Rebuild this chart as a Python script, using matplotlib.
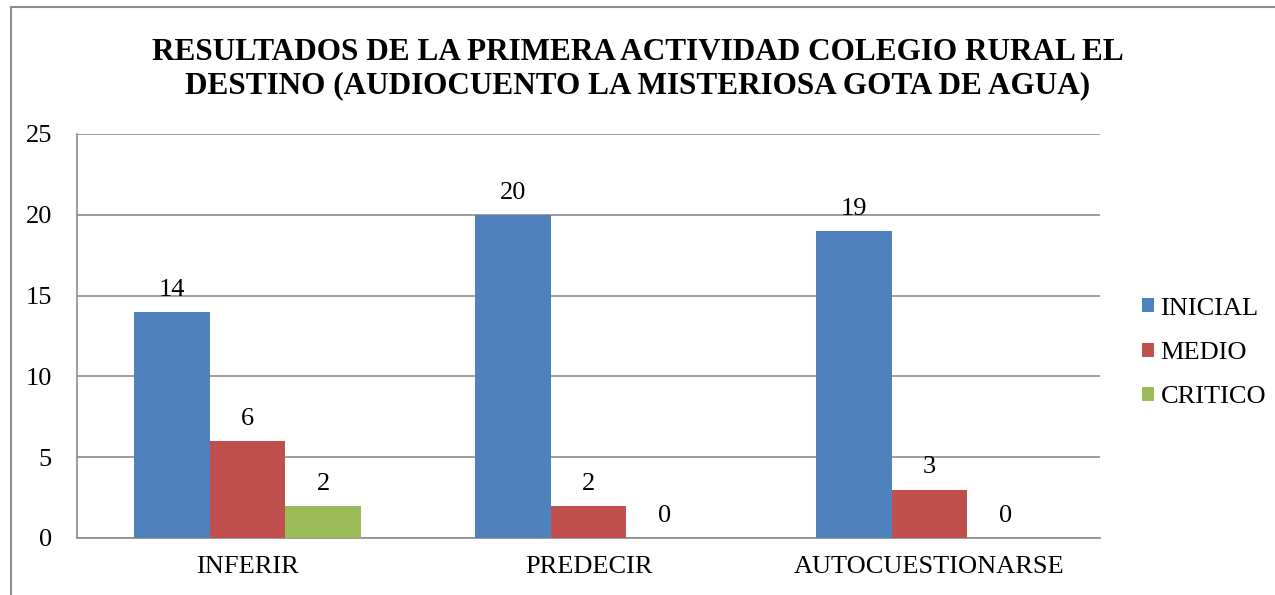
import numpy as np
from matplotlib import pyplot as plt
from matplotlib.patches import Rectangle

plt.rcParams['font.family'] = ['Liberation Serif', 'DejaVu Serif']

categorias = ['INFERIR', 'PREDECIR', 'AUTOCUESTIONARSE']
series = ['INICIAL', 'MEDIO', 'CRITICO']
inicial = [14, 20, 19]
medio = [6, 2, 3]
critico = [2, 0, 0]
colores = ['#4F81BD', '#C0504D', '#9BBB59']

fig = plt.figure(figsize=(12.75, 5.95), dpi=100)
ax = fig.add_axes([77/1275, 1-538/595, (1100-77)/1275, (538-134)/595])

# marco exterior del grafico
fig.patches.append(Rectangle((11/1275, -0.05), 1.1, 1-7/595+0.05, transform=fig.transFigure,
                             fill=False, edgecolor='#8c8c8c', linewidth=1.5))

x = np.arange(len(categorias))
ancho = 0.222
for i, (nombre, vals) in enumerate(zip(series, [inicial, medio, critico])):
    barras = ax.bar(x + (i-1)*ancho, vals, ancho, color=colores[i], label=nombre, zorder=3)
    for b, v in zip(barras, vals):
        ax.annotate(str(v), (b.get_x() + b.get_width()/2, v), xytext=(0, 8),
                    textcoords='offset points', ha='center', va='bottom', fontsize=19)

ax.set_xlim(-0.5, 2.5)
ax.set_ylim(0, 25)
ax.set_yticks([0, 5, 10, 15, 20, 25])
ax.set_xticks(x)
ax.set_xticklabels(categorias)
ax.tick_params(axis='both', length=0, labelsize=19)
ax.tick_params(axis='y', pad=18)
ax.tick_params(axis='x', pad=13)
ax.yaxis.grid(True, color='#8c8c8c', linewidth=1.2, zorder=0)
ax.spines['top'].set_visible(False)
ax.spines['right'].set_visible(False)
ax.spines['left'].set_color('#8c8c8c')
ax.spines['bottom'].set_color('#8c8c8c')
ax.spines['left'].set_linewidth(1.2)
ax.spines['bottom'].set_linewidth(1.2)

fig.text(0.5, 1-69/595, 'RESULTADOS DE LA PRIMERA ACTIVIDAD COLEGIO RURAL EL\nDESTINO (AUDIOCUENTO LA MISTERIOSA GOTA DE AGUA)',
         ha='center', va='center', fontsize=22.5, fontweight='bold', linespacing=1.2)

fig.legend(loc='center left', bbox_to_anchor=(1142/1275, 1-353/595), frameon=False,
           borderpad=0, borderaxespad=0,
           fontsize=19, handlelength=0.45, handleheight=0.45, handletextpad=0.25, labelspacing=0.85)

plt.savefig('out.png', dpi=100)
